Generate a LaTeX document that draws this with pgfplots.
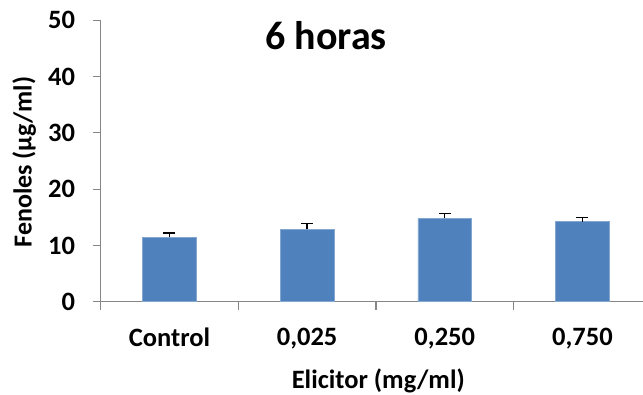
\documentclass[border=0pt]{standalone}
\usepackage{pgfplots}
\pgfplotsset{compat=1.18}
\usepackage{fontspec}
\setmainfont{Carlito}
\definecolor{barblue}{RGB}{79,129,189}
\definecolor{axisgray}{RGB}{134,134,134}
\begin{document}
\begin{tikzpicture}
\path[use as bounding box] (-100.6pt,-92.3pt) rectangle (542.4pt,301.7pt);
\begin{axis}[
  at={(0pt,0pt)}, anchor=south west,
  scale only axis,
  width=542.4pt, height=281.5pt,
  xmin=-0.5, xmax=3.44,
  ymin=0, ymax=50,
  ytick={0,10,20,30,40,50},
  xtick={0,1,2,3},
  xticklabels={Control,{0,025},{0,250},{0,750}},
  xtick style={draw=none},
  extra x ticks={-0.5,0.5,1.5,2.5},
  extra x tick labels={},
  extra x tick style={xtick style={draw=axisgray, line width=1.2pt}},
  ytick style={draw=axisgray, line width=1.2pt},
  tick align=outside,
  major tick length=8pt,
  axis x line*=bottom, axis y line*=left,
  axis line style={draw=axisgray, line width=1.3pt, -},
  /pgf/number format/assume math mode=true,
  ticklabel style={font=\fontsize{26.5}{30}\selectfont\bfseries},
  xticklabel style={yshift=-15pt},
  yticklabel style={xshift=-14pt},
  ylabel={Fenoles (µg/ml)},
  ylabel style={font=\fontsize{26}{30}\selectfont\bfseries, at={(axis description cs:-0.141,0.496)}, anchor=center, rotate=0},
  xlabel={Elicitor (mg/ml)},
  xlabel style={font=\fontsize{26.5}{30}\selectfont\bfseries, at={(axis description cs:0.512,-0.282)}, anchor=center},
  ybar, bar width=0.39,
]
\addplot[fill=barblue, draw=barblue!70!white, line width=0.8pt,
  error bars/.cd, y dir=plus, y explicit,
  error bar style={black, line width=1.4pt},
  error mark options={black, line width=1.4pt, mark size=6pt, rotate=90}]
  coordinates {
  (0,11.45) +- (0,0.78)
  (1,12.83) +- (0,1.03)
  (2,14.82) +- (0,0.84)
  (3,14.22) +- (0,0.78)
};
\end{axis}
\node[font=\fontsize{40}{48}\selectfont\bfseries] at (225.4pt,266pt) {6 horas};
\end{tikzpicture}
\end{document}
